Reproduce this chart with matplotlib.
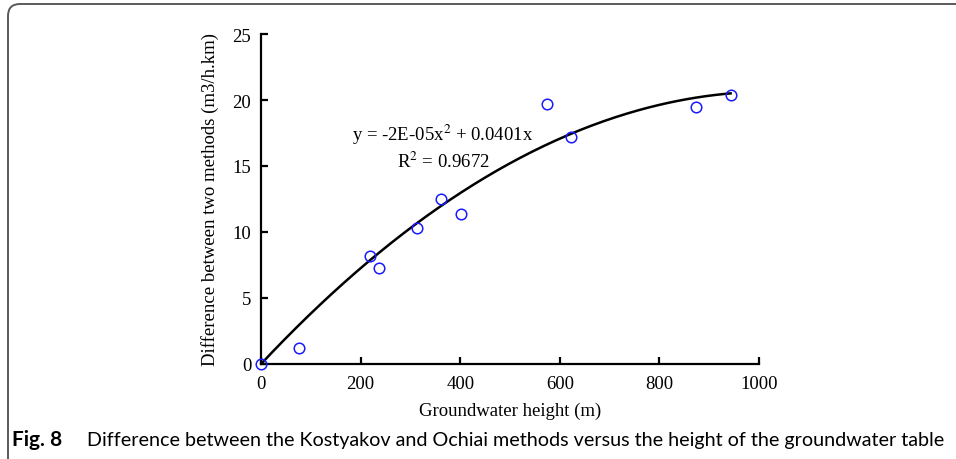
import numpy as np
import matplotlib
matplotlib.use("Agg")
import matplotlib.pyplot as plt
from matplotlib.patches import FancyBboxPatch
from matplotlib.transforms import IdentityTransform

# Data
height_m = [0, 76, 219, 237, 313, 361, 401, 574, 623, 874, 943]
difference = [0, 1.22, 8.18, 7.26, 10.32, 12.52, 11.40, 19.68, 17.18, 19.48, 20.40]
x_ticks = [0, 200, 400, 600, 800, 1000]
y_ticks = [0, 5, 10, 15, 20, 25]
equation_text = "y = -2E-05x$^{2}$ + 0.0401x"
r2_text = "R$^{2}$ = 0.9672"
x_label = "Groundwater height (m)"
y_label = "Difference between two methods (m3/h.km)"
caption_bold = "Fig. 8"
caption_text = "Difference between the Kostyakov and Ochiai methods versus the height of the groundwater table"

plt.rcParams['mathtext.fontset'] = 'stix'
serif = ['Liberation Serif', 'DejaVu Serif']
FS = 13.5

W, H = 956, 460
fig = plt.figure(figsize=(W / 100, H / 100), dpi=100)

# rounded border (left + top visible)
border = FancyBboxPatch((8, -30), 1000, 460 - 5 + 30,
                        boxstyle="round,pad=0,rounding_size=12",
                        transform=IdentityTransform(), fill=False,
                        edgecolor='#5a5a5a', linewidth=1.4)
fig.add_artist(border)

ax = fig.add_axes([261 / W, 1 - 365 / H, (759 - 261) / W, (365 - 35) / H])

xs = np.asarray(height_m, float)
ys = np.asarray(difference, float)
A = np.column_stack([xs ** 2, xs])
coef, *_ = np.linalg.lstsq(A, ys, rcond=None)
xf = np.linspace(0, xs.max(), 200)
yf = coef[0] * xf ** 2 + coef[1] * xf
ax.plot(xf, yf, color='black', lw=1.8, zorder=2)

ax.plot(xs, ys, linestyle='none', marker='o', markersize=7.6,
        markerfacecolor='none', markeredgecolor='#1a1aff', markeredgewidth=1.1,
        zorder=3, clip_on=False)

ax.set_xlim(0, 1000)
ax.set_ylim(0, 25)
ax.set_xticks(x_ticks)
ax.set_yticks(y_ticks)
for s in ['top', 'right']:
    ax.spines[s].set_visible(False)
for s in ['left', 'bottom']:
    ax.spines[s].set_linewidth(1.6)
ax.tick_params(direction='in', length=5, width=1.6, labelsize=FS)
ax.tick_params(axis='x', pad=8)
ax.tick_params(axis='y', pad=7)
for lab in ax.get_xticklabels() + ax.get_yticklabels():
    lab.set_fontfamily(serif)

ax.set_xlabel(x_label, fontsize=FS, family=serif, labelpad=7)
ax.set_ylabel(y_label, fontsize=FS, family=serif, labelpad=10)

ax.text(365, 17.4, equation_text, fontsize=FS, family=serif, ha='center', va='center')
ax.text(366, 15.4, r2_text, fontsize=FS, family=serif, ha='center', va='center')

fig.text(12 / W, 1 - 446 / H, caption_bold, fontsize=15, fontweight='bold',
         family=['Lato', 'DejaVu Sans'], ha='left', va='baseline')
fig.text(87 / W, 1 - 446 / H, caption_text, fontsize=14.2,
         family=['Lato', 'DejaVu Sans'], ha='left', va='baseline')

fig.savefig("out.png", dpi=100)
